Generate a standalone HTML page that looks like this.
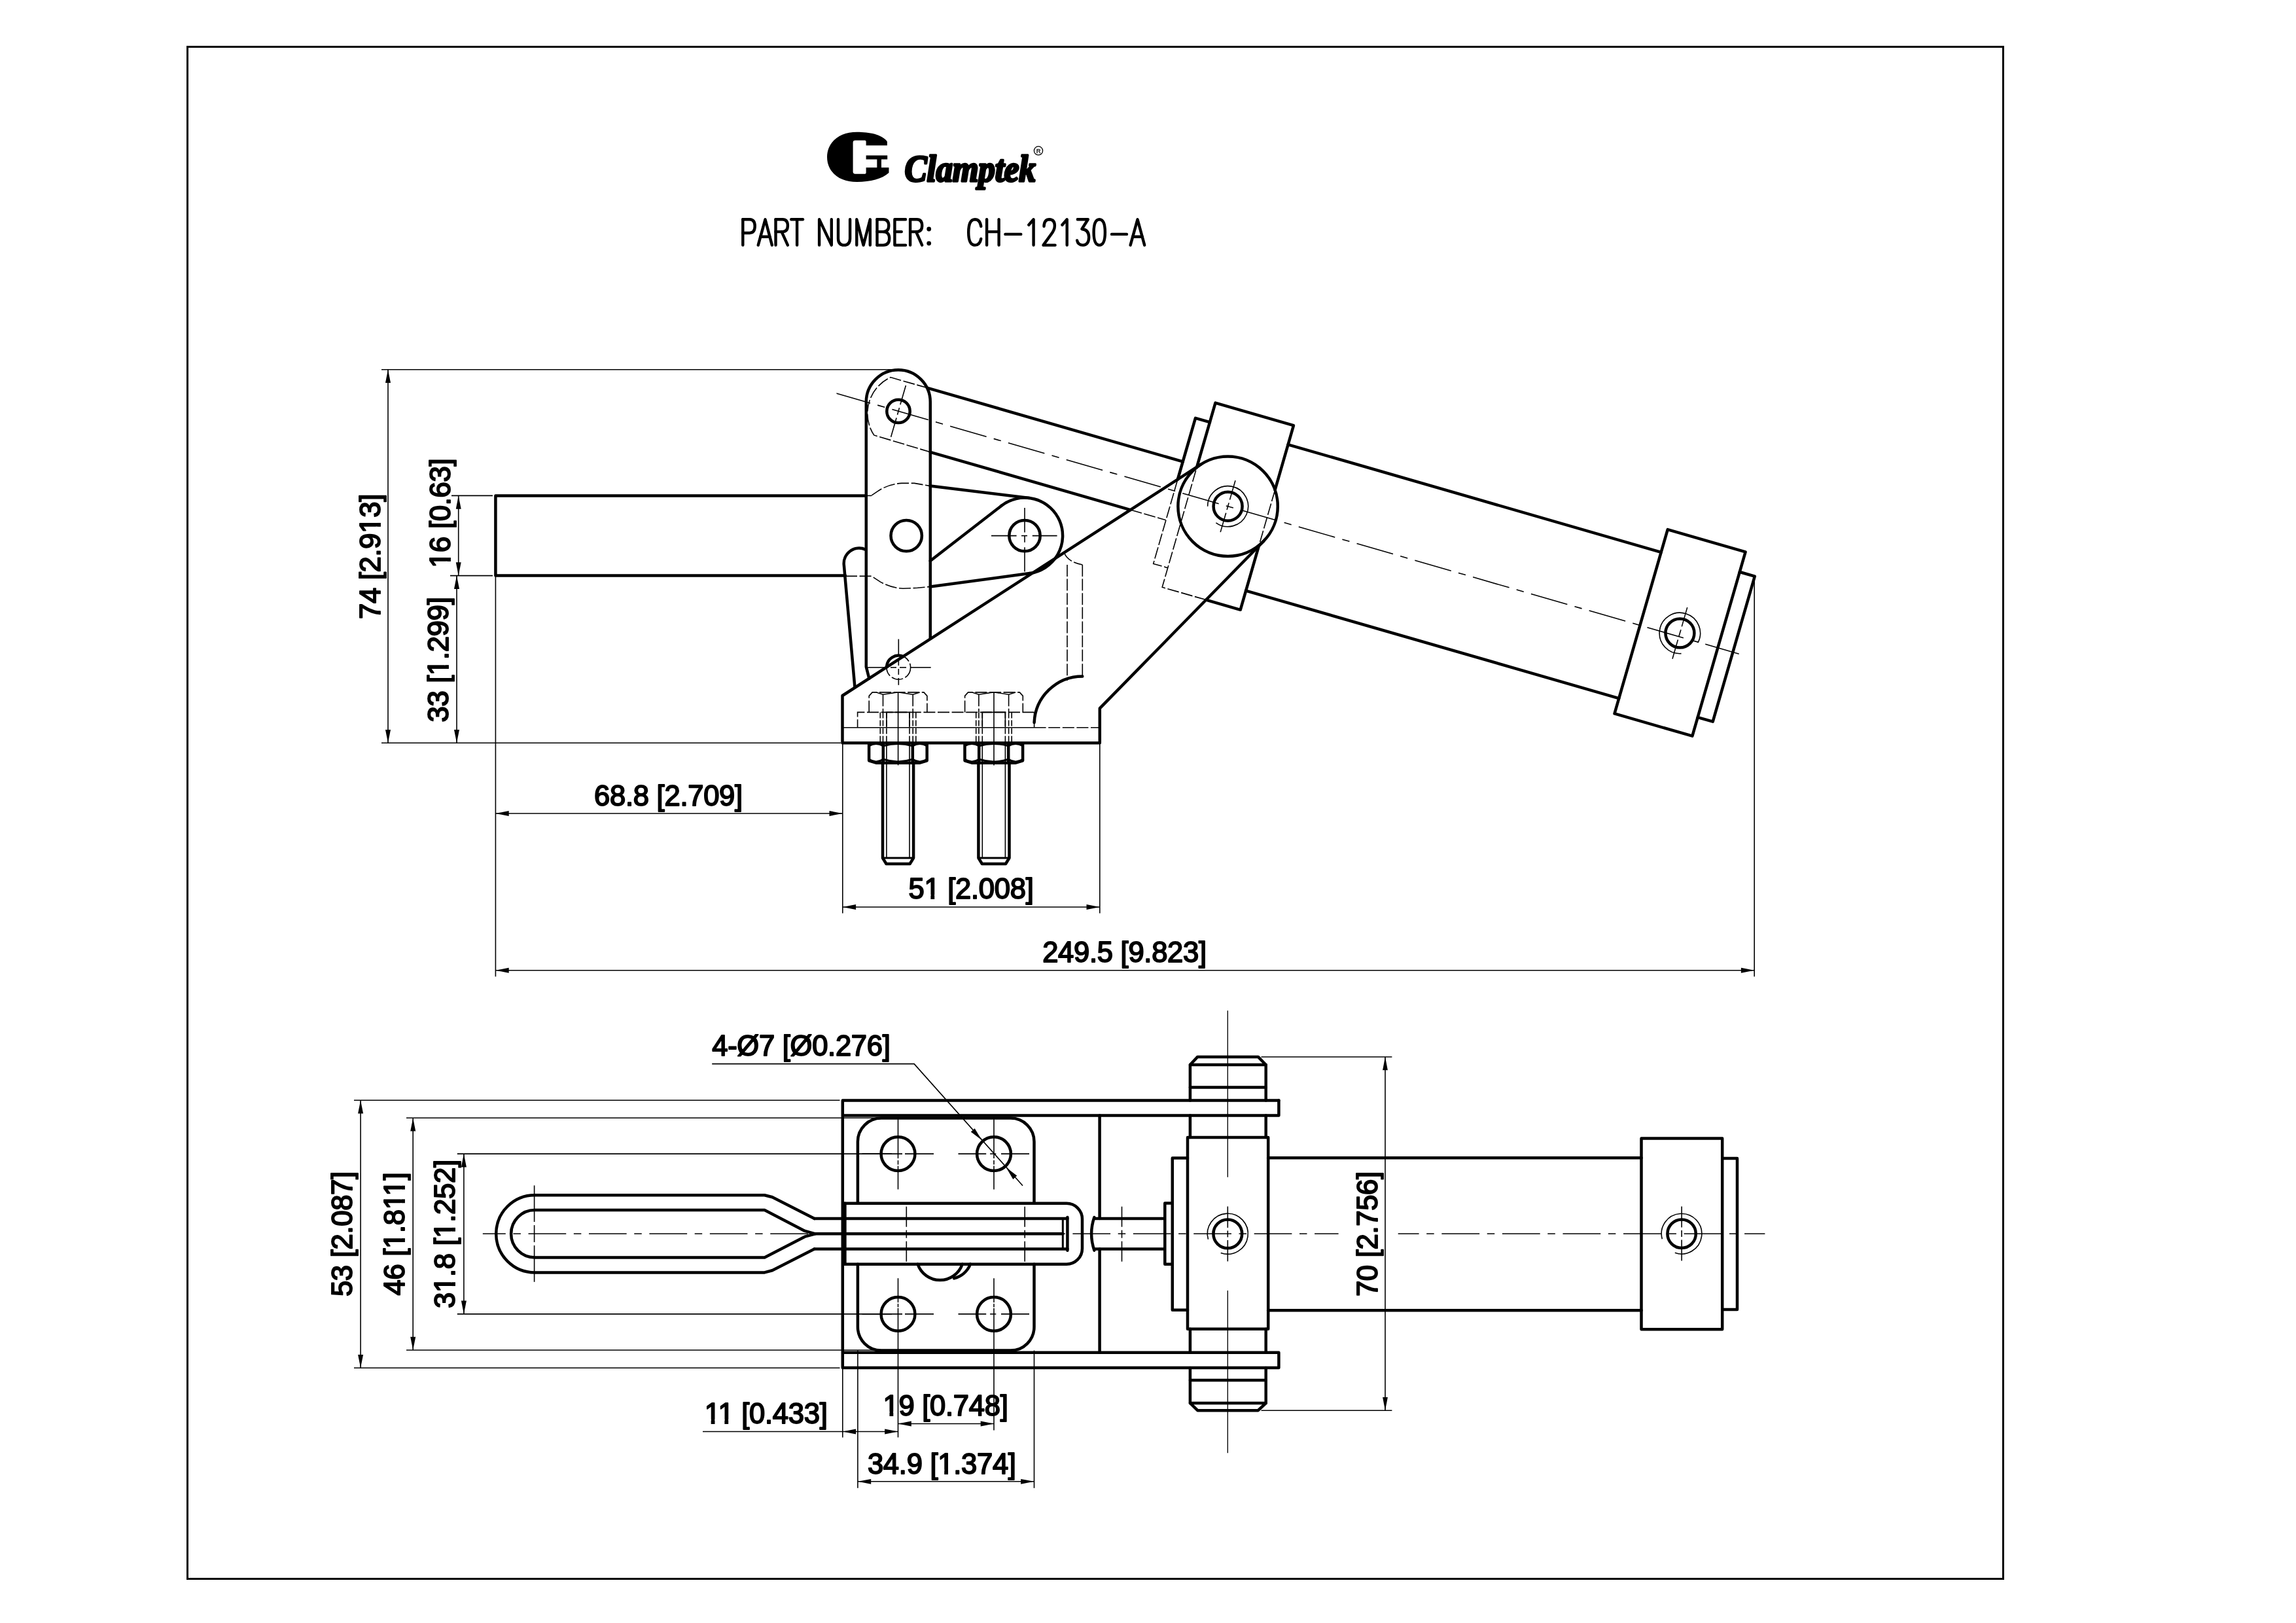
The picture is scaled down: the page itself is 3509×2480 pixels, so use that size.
<!DOCTYPE html>
<html><head><meta charset="utf-8"><title>CH-12130-A</title>
<style>
html,body{margin:0;padding:0;background:#fff}
body{width:3509px;height:2480px;overflow:hidden}
svg{display:block;will-change:transform}
.b{fill:none;stroke:#000;stroke-width:3}
.k{fill:none;stroke:#000;stroke-width:4.5;stroke-linejoin:round;stroke-linecap:round}
.kr{fill:none;stroke:#000;stroke-width:4.5;stroke-linejoin:round;stroke-linecap:round}
.t{fill:none;stroke:#000;stroke-width:1.6}
.h{fill:none;stroke:#000;stroke-width:1.6;stroke-dasharray:18 3.6}
.c{fill:none;stroke:#000;stroke-width:1.6;stroke-dasharray:57.5 11.5 11.5 11.5}
.cs{fill:none;stroke:#000;stroke-width:1.6;stroke-dasharray:30 5 5 5}
.kn{fill:none;stroke:#000;stroke-width:3}
.a{fill:#000;stroke:none}
.f{fill:#000;stroke:none}
.w{fill:#fff;stroke:none}
.s{fill:none;stroke:#000;stroke-width:4.4;stroke-linecap:round;stroke-linejoin:round}
text{font-family:"Liberation Sans",sans-serif;font-size:43.5px;letter-spacing:-0.25px;fill:#000;stroke:#000;stroke-width:1.9px;stroke-linejoin:round}
</style></head>
<body>
<svg width="3509" height="2480" viewBox="0 0 3509 2480">
<text class="d" x="580" y="850.5" dy="0.7" text-anchor="middle" transform="rotate(-90 580 850.5)">74 [2.913]</text>
<text class="d" x="686.8" y="784.3" dy="0.7" text-anchor="middle" transform="rotate(-90 686.8 784.3)">16 [0.63]</text>
<text class="d" x="684.5" y="1008" dy="0.7" text-anchor="middle" transform="rotate(-90 684.5 1008)">33 [1.299]</text>
<text class="d" x="1021.5" y="1230.5" dy="0.7" text-anchor="middle">68.8 [2.709]</text>
<text class="d" x="1484" y="1372.4" dy="0.7" text-anchor="middle">51 [2.008]</text>
<text class="d" x="1718.5" y="1469.6" dy="0.7" text-anchor="middle">249.5 [9.823]</text>
<text class="d" x="537.8" y="1885.6" dy="0.7" text-anchor="middle" transform="rotate(-90 537.8 1885.6)">53 [2.087]</text>
<text class="d" x="617.8" y="1885.6" dy="0.7" text-anchor="middle" transform="rotate(-90 617.8 1885.6)">46 [1.811]</text>
<text class="d" x="694.5" y="1885.6" dy="0.7" text-anchor="middle" transform="rotate(-90 694.5 1885.6)">31.8 [1.252]</text>
<text class="d" x="2104.3" y="1885.6" dy="0.7" text-anchor="middle" transform="rotate(-90 2104.3 1885.6)">70 [2.756]</text>
<text class="d" x="1088.2" y="1612.3" dy="0.7" text-anchor="start">4-&#216;7 [&#216;0.276]</text>
<text class="d" x="1170.6" y="2174.2" dy="0.7" text-anchor="middle">11 [0.433]</text>
<text class="d" x="1445" y="2162.4" dy="0.7" text-anchor="middle">19 [0.748]</text>
<text class="d" x="1439.3" y="2250.8" dy="0.7" text-anchor="middle">34.9 [1.374]</text>
<rect class="w" x="617.37" y="845.00" width="8.35" height="7.80" transform="rotate(-90 580 850.5)"/>
<rect class="w" x="631.55" y="845.00" width="8.02" height="7.80" transform="rotate(-90 580 850.5)"/>
<rect class="w" x="604.87" y="778.80" width="8.35" height="7.80" transform="rotate(-90 686.8 784.3)"/>
<rect class="w" x="619.05" y="778.80" width="8.02" height="7.80" transform="rotate(-90 686.8 784.3)"/>
<rect class="w" x="662.15" y="1002.50" width="8.35" height="7.80" transform="rotate(-90 684.5 1008)"/>
<rect class="w" x="676.33" y="1002.50" width="8.02" height="7.80" transform="rotate(-90 684.5 1008)"/>
<rect class="w" x="1414.04" y="1366.90" width="8.35" height="7.80"/>
<rect class="w" x="1428.22" y="1366.90" width="8.02" height="7.80"/>
<rect class="w" x="597.06" y="1880.10" width="8.35" height="7.80" transform="rotate(-90 617.8 1885.6)"/>
<rect class="w" x="611.24" y="1880.10" width="8.02" height="7.80" transform="rotate(-90 617.8 1885.6)"/>
<rect class="w" x="656.77" y="1880.10" width="8.35" height="7.80" transform="rotate(-90 617.8 1885.6)"/>
<rect class="w" x="670.95" y="1880.10" width="8.02" height="7.80" transform="rotate(-90 617.8 1885.6)"/>
<rect class="w" x="677.49" y="1880.10" width="8.35" height="7.80" transform="rotate(-90 617.8 1885.6)"/>
<rect class="w" x="691.67" y="1880.10" width="8.02" height="7.80" transform="rotate(-90 617.8 1885.6)"/>
<rect class="w" x="606.65" y="1880.10" width="8.35" height="7.80" transform="rotate(-90 694.5 1885.6)"/>
<rect class="w" x="620.83" y="1880.10" width="8.02" height="7.80" transform="rotate(-90 694.5 1885.6)"/>
<rect class="w" x="690.04" y="1880.10" width="8.35" height="7.80" transform="rotate(-90 694.5 1885.6)"/>
<rect class="w" x="704.22" y="1880.10" width="8.02" height="7.80" transform="rotate(-90 694.5 1885.6)"/>
<rect class="w" x="1078.31" y="2168.70" width="8.35" height="7.80"/>
<rect class="w" x="1092.49" y="2168.70" width="8.02" height="7.80"/>
<rect class="w" x="1099.01" y="2168.70" width="8.35" height="7.80"/>
<rect class="w" x="1113.19" y="2168.70" width="8.02" height="7.80"/>
<rect class="w" x="1351.10" y="2156.90" width="8.35" height="7.80"/>
<rect class="w" x="1365.28" y="2156.90" width="8.02" height="7.80"/>
<rect class="w" x="1434.84" y="2245.30" width="8.35" height="7.80"/>
<rect class="w" x="1449.02" y="2245.30" width="8.02" height="7.80"/>
<rect class="b" x="286.5" y="71.5" width="2775" height="2341"/>
<!-- side view -->
<path class="t" d="M583 564.7L1368 564.7"/>
<path class="t" d="M583 1135.2L1285 1135.2"/>
<path class="t" d="M593 564.7L593 1135.2"/>
<path class="a" d="M593 564.7L597 585L589 585Z"/>
<path class="a" d="M593 1135.2L589 1114.9L597 1114.9Z"/>
<path class="t" d="M690 757.4L753 757.4"/>
<path class="t" d="M688 879.6L753 879.6"/>
<path class="t" d="M700.7 757.4L700.7 879.6"/>
<path class="a" d="M700.7 757.4L704.7 777.7L696.8 777.7Z"/>
<path class="a" d="M700.7 879.6L696.8 859.3L704.7 859.3Z"/>
<path class="t" d="M698 879.6L698 1135.2"/>
<path class="a" d="M698 879.6L702 899.9L694 899.9Z"/>
<path class="a" d="M698 1135.2L694 1114.9L702 1114.9Z"/>
<path class="t" d="M757.4 879.6L757.4 1492.3"/>
<path class="t" d="M1287.8 1135.2L1287.8 1395.6"/>
<path class="t" d="M1680.8 1135.2L1680.8 1395.6"/>
<path class="t" d="M2681.2 882L2681.2 1492.3"/>
<path class="t" d="M757.4 1243L1287.8 1243"/>
<path class="a" d="M757.4 1243L777.7 1239L777.7 1247Z"/>
<path class="a" d="M1287.8 1243L1267.5 1247L1267.5 1239Z"/>
<path class="t" d="M1287.8 1386L1680.8 1386"/>
<path class="a" d="M1287.8 1386L1308.1 1382L1308.1 1390Z"/>
<path class="a" d="M1680.8 1386L1660.5 1390L1660.5 1382Z"/>
<path class="t" d="M757.4 1482.7L2681.2 1482.7"/>
<path class="a" d="M757.4 1482.7L777.7 1478.8L777.7 1486.7Z"/>
<path class="a" d="M2681.2 1482.7L2660.9 1486.7L2660.9 1478.8Z"/>
<path class="k" d="M1323.8 757.4L757.4 757.4L757.4 879.6L1291.9 879.6"/>
<path class="t" d="M1323.8 757.4L1332.2 757.4"/>
<path class="k" d="M1328.3 1036.8L1323.8 1018.9L1323.8 614.3A49 49 0 0 1 1421.8 614.3L1421.8 975.8"/>
<circle class="k" cx="1373" cy="628.4" r="17.7"/>
<circle class="k" cx="1385.2" cy="818.6" r="23.7"/>
<path class="k" d="M1835.3 709.7L1287.5 1063L1287.5 1135.2L1680.8 1135.2L1680.8 1082.4L1931 827"/>
<circle class="k" cx="1876.6" cy="773.7" r="76.2"/>
<circle class="k" cx="1876.6" cy="773.7" r="22"/>
<path class="t" d="M1845.6 773.7A31 31 0 1 1 1858.4 798.8"/>
<path class="k" d="M1829 714.2L1857.5 615.6L1977 650.1L1948.6 748.7"/>
<path class="h" d="M1948.6 748.7L1924.2 833.2"/>
<path class="k" d="M1924.2 833.2L1895.7 931.8L1843.2 916.6"/>
<path class="h" d="M1843.2 916.6L1776.2 897.3L1829 714.2"/>
<path class="k" d="M1849 645.2L1827 638.8L1799.9 732.5"/>
<path class="h" d="M1799.9 732.5L1762.7 861.4L1784.7 867.7"/>
<path class="k" d="M1418.6 593.1L1807.7 705.4"/>
<path class="k" d="M1421.8 690.8L1727.6 779.1"/>
<path class="h" d="M1727.6 779.1L1781.9 794.8"/>
<path class="h" d="M1418.6 593.1L1361.1 576.6A60.5 60.5 0 0 0 1335.7 664.9L1421.8 690.8"/>
<path class="k" d="M1968.6 679.3L2538.6 843.8"/>
<path class="k" d="M1904.1 902.6L2474.2 1067.1"/>
<path class="k" d="M2548.7 809.1L2667.6 843.4L2586.4 1124.7L2467.5 1090.4Z"/>
<path class="k" d="M2658.8 874L2681.8 880.7L2617.7 1102.7L2594.7 1096.1"/>
<circle class="k" cx="2567.4" cy="967.5" r="22"/>
<path class="t" d="M2569.5 998.6A31.2 31.2 0 1 1 2594.9 982.1"/>
<path class="t" style="stroke-dasharray:57.7 11.6 11.5 11.6" d="M1274.6 599.9L2657.7 999.2"/>
<rect class="w" x="1260" y="585" width="18.5" height="30"/>
<path class="t" d="M1384.4 589L1375.9 618.3"/>
<path class="t" d="M1374.5 623.1L1371.5 633.7"/>
<path class="t" d="M1370.1 638.5L1361.6 667.8"/>
<path class="t" d="M1888 734.3L1879.5 763.6"/>
<path class="t" d="M1878.1 768.4L1875.1 779"/>
<path class="t" d="M1873.7 783.8L1865.2 813.1"/>
<path class="t" d="M2578.7 928.1L2570.3 957.4"/>
<path class="t" d="M2568.9 962.2L2565.8 972.7"/>
<path class="t" d="M2564.4 977.5L2556 1006.8"/>
<circle class="k" cx="1566" cy="818.6" r="23.7"/>
<path class="k" d="M1421.8 742.6L1573 761"/>
<path class="k" d="M1421.8 857L1530.5 772.8"/>
<path class="k" d="M1421.8 896.4L1573.7 876.1"/>
<path class="k" d="M1530.5 772.8A58 58 0 1 1 1573.7 876.1"/>
<path class="t" d="M1515 818.6L1553.6 818.6"/>
<path class="t" d="M1561 818.6L1570 818.6"/>
<path class="t" d="M1577.8 818.6L1615.6 818.6"/>
<path class="t" d="M1566 776L1566 813.5"/>
<path class="t" d="M1566 817.9L1566 828.8"/>
<path class="t" d="M1566 836.2L1566 873.6"/>
<path class="h" d="M1332.2 756.8L1340.7 751.2Q1357 739.6 1378 738.4L1397.4 738.4L1421.8 742.6"/>
<path class="h" d="M1292 880.4L1332.2 880.4L1345.4 889.1Q1361 898.3 1380 899.3L1402.4 898.3L1421.8 896.4"/>
<path class="k" d="M1306.4 1049.5L1289.9 864A23.4 23.4 0 0 1 1322.6 839.6"/>
<path class="t" d="M1287.5 1111.8L1580.6 1111.8"/>
<path class="h" d="M1580.6 1111.8L1680.8 1111.8"/>
<path class="k" d="M1654.3 1033.4A73.8 73.8 0 0 0 1580.6 1104.1"/>
<path class="t" d="M1580.6 1088.6L1580.6 1112"/>
<path class="h" d="M1631 863L1631 1040"/>
<path class="h" d="M1654.3 863L1654.3 1033"/>
<path class="h" d="M1626.3 844.2Q1632 859 1654.3 863"/>
<circle class="h" cx="1373.3" cy="1019.9" r="18.3"/>
<path class="k" d="M1355 1019.5A18.3 18.3 0 0 1 1380.5 1003.1"/>
<path class="t" d="M1326.1 1019.9L1356 1019.9"/>
<path class="t" d="M1361 1019.9L1370 1019.9"/>
<path class="t" d="M1375 1019.9L1385 1019.9"/>
<path class="t" d="M1391 1019.9L1422.7 1019.9"/>
<path class="t" d="M1373.3 976.6L1373.3 1003"/>
<path class="t" d="M1373.3 1008L1373.3 1017"/>
<path class="t" d="M1373.3 1022L1373.3 1031"/>
<path class="t" d="M1373.3 1036L1373.3 1046.8"/>
<path class="h" d="M1328.2 1088.4L1328.2 1063.4L1333.2 1057.9L1411.9 1057.9L1416.9 1063.4L1416.9 1088.4"/>
<path class="h" d="M1349.5 1061.2L1349.5 1088.4"/>
<path class="h" d="M1395.2 1061.2L1395.2 1088.4"/>
<path class="t" d="M1339.6 1057.9L1349.5 1061.2L1371.1 1057.9"/>
<path class="t" d="M1374.1 1057.9L1395.2 1061.2L1405.6 1057.9"/>
<path class="t" d="M1372.6 1057.9L1372.6 1169.4"/>
<path class="t" style="stroke-dasharray:9 3" d="M1345.3 1088.4L1345.3 1135.2"/>
<path class="t" style="stroke-dasharray:9 3" d="M1349.5 1088.4L1349.5 1135.2"/>
<path class="t" style="stroke-dasharray:9 3" d="M1354.9 1088.4L1354.9 1135.2"/>
<path class="t" style="stroke-dasharray:9 3" d="M1390 1088.4L1390 1135.2"/>
<path class="t" style="stroke-dasharray:9 3" d="M1395.2 1088.4L1395.2 1135.2"/>
<path class="t" style="stroke-dasharray:9 3" d="M1399.8 1088.4L1399.8 1135.2"/>
<path class="t" d="M1354.9 1111.8L1354.9 1088.4L1390 1088.4L1390 1111.8"/>
<path class="k" d="M1328.1 1135.2L1328.1 1162.3L1339.6 1165.8L1405.2 1165.8L1416.7 1162.3L1416.7 1135.2"/>
<path class="k" d="M1349.8 1135.2L1349.8 1165.8"/>
<path class="k" d="M1394.8 1135.2L1394.8 1165.8"/>
<path class="t" d="M1354.9 1135.2L1354.9 1165.8"/>
<path class="t" d="M1390 1135.2L1390 1165.8"/>
<path class="kn" d="M1328.1 1139.7Q1338.9 1133.2 1349.8 1139.7"/>
<path class="kn" d="M1328.1 1160.3Q1338.9 1167.5 1349.8 1160.3"/>
<path class="kn" d="M1349.8 1139.7Q1372.3 1133.2 1394.8 1139.7"/>
<path class="kn" d="M1349.8 1160.3Q1372.3 1167.5 1394.8 1160.3"/>
<path class="kn" d="M1394.8 1139.7Q1405.8 1133.2 1416.7 1139.7"/>
<path class="kn" d="M1394.8 1160.3Q1405.8 1167.5 1416.7 1160.3"/>
<path class="k" d="M1349 1165.8L1349 1311L1354.5 1320L1390.6 1320L1396.1 1311L1396.1 1165.8"/>
<path class="kn" d="M1349 1311L1396.1 1311"/>
<path class="t" d="M1354.9 1165.8L1354.9 1311"/>
<path class="t" d="M1390 1165.8L1390 1311"/>
<path class="h" d="M1474.6 1088.4L1474.6 1063.4L1479.6 1057.9L1558.3 1057.9L1563.3 1063.4L1563.3 1088.4"/>
<path class="h" d="M1495.9 1061.2L1495.9 1088.4"/>
<path class="h" d="M1541.6 1061.2L1541.6 1088.4"/>
<path class="t" d="M1486 1057.9L1495.9 1061.2L1517.5 1057.9"/>
<path class="t" d="M1520.5 1057.9L1541.6 1061.2L1552 1057.9"/>
<path class="t" d="M1519 1057.9L1519 1169.4"/>
<path class="t" style="stroke-dasharray:9 3" d="M1491.7 1088.4L1491.7 1135.2"/>
<path class="t" style="stroke-dasharray:9 3" d="M1495.9 1088.4L1495.9 1135.2"/>
<path class="t" style="stroke-dasharray:9 3" d="M1501.3 1088.4L1501.3 1135.2"/>
<path class="t" style="stroke-dasharray:9 3" d="M1536.4 1088.4L1536.4 1135.2"/>
<path class="t" style="stroke-dasharray:9 3" d="M1541.6 1088.4L1541.6 1135.2"/>
<path class="t" style="stroke-dasharray:9 3" d="M1546.2 1088.4L1546.2 1135.2"/>
<path class="t" d="M1501.3 1111.8L1501.3 1088.4L1536.4 1088.4L1536.4 1111.8"/>
<path class="k" d="M1474.5 1135.2L1474.5 1162.3L1486 1165.8L1551.6 1165.8L1563.1 1162.3L1563.1 1135.2"/>
<path class="k" d="M1496.2 1135.2L1496.2 1165.8"/>
<path class="k" d="M1541.2 1135.2L1541.2 1165.8"/>
<path class="t" d="M1501.3 1135.2L1501.3 1165.8"/>
<path class="t" d="M1536.4 1135.2L1536.4 1165.8"/>
<path class="kn" d="M1474.5 1139.7Q1485.3 1133.2 1496.2 1139.7"/>
<path class="kn" d="M1474.5 1160.3Q1485.3 1167.5 1496.2 1160.3"/>
<path class="kn" d="M1496.2 1139.7Q1518.7 1133.2 1541.2 1139.7"/>
<path class="kn" d="M1496.2 1160.3Q1518.7 1167.5 1541.2 1160.3"/>
<path class="kn" d="M1541.2 1139.7Q1552.2 1133.2 1563.1 1139.7"/>
<path class="kn" d="M1541.2 1160.3Q1552.2 1167.5 1563.1 1160.3"/>
<path class="k" d="M1495.4 1165.8L1495.4 1311L1500.9 1320L1537 1320L1542.5 1311L1542.5 1165.8"/>
<path class="kn" d="M1495.4 1311L1542.5 1311"/>
<path class="t" d="M1501.3 1165.8L1501.3 1311"/>
<path class="t" d="M1536.4 1165.8L1536.4 1311"/>
<path class="h" d="M1580.6 1088.4L1310.6 1088.4L1310.6 1111.8"/>
<!-- plan view -->
<path class="t" d="M541 1681.2L1283.5 1681.2"/>
<path class="t" d="M541 2090.2L1283.5 2090.2"/>
<path class="t" d="M551.1 1681.2L551.1 2090.2"/>
<path class="a" d="M551.1 1681.2L555.1 1701.5L547.1 1701.5Z"/>
<path class="a" d="M551.1 2090.2L547.1 2069.9L555.1 2069.9Z"/>
<path class="t" d="M621 1708.3L1345 1708.3"/>
<path class="t" d="M621 2063L1345 2063"/>
<path class="t" d="M631.2 1708.3L631.2 2063"/>
<path class="a" d="M631.2 1708.3L635.2 1728.6L627.2 1728.6Z"/>
<path class="a" d="M631.2 2063L627.2 2042.7L635.2 2042.7Z"/>
<path class="t" d="M698.8 1763.1L1363 1763.1"/>
<path class="t" d="M698.8 2007.9L1363 2007.9"/>
<path class="t" d="M708.9 1763.1L708.9 2007.9"/>
<path class="a" d="M708.9 1763.1L712.9 1783.4L704.9 1783.4Z"/>
<path class="a" d="M708.9 2007.9L704.9 1987.6L712.9 1987.6Z"/>
<path class="k" d="M1244.6 1862.1L1180.3 1829.3L1168.5 1826.2L817.3 1826.2A59.1 59.1 0 0 0 817.3 1944.4L1168.5 1944.4L1180.3 1941.3L1244.6 1908.5"/>
<path class="k" d="M1246 1885.3L1230 1880.9L1168.5 1849.1L817.3 1849.1A36.2 36.2 0 0 0 817.3 1921.5L1168.5 1921.5L1230 1889.7Z"/>
<path class="k" d="M1244.6 1862.1L1631.4 1862.1"/>
<path class="k" d="M1244.6 1908.6L1631.4 1908.6"/>
<path class="k" d="M1244 1885.3L1624.3 1885.3"/>
<path class="kn" d="M1624.3 1862.1L1624.3 1908.6"/>
<path class="k" d="M1631.4 1859.9L1631.4 1910.8"/>
<path class="t" d="M816.6 1811.4L816.6 1867.1"/>
<path class="t" d="M816.6 1872.1L816.6 1898.1"/>
<path class="t" d="M816.6 1903.1L816.6 1958.8"/>
<path class="k" d="M1954.4 1681.5L1287.8 1681.5L1287.8 2090L1954.4 2090L1954.4 2066.8L1289.8 2066.8"/>
<path class="k" d="M1289.8 1704.6L1954.4 1704.6L1954.4 1681.5"/>
<path class="k" d="M1291.4 1838.8L1291.4 1931.7"/>
<path class="k" d="M1680.6 1704.6L1680.6 1862.1"/>
<path class="k" d="M1680.6 1908.6L1680.6 2066.8"/>
<path class="k" d="M1310.9 1838.8L1310.9 1744.6A36 36 0 0 1 1346.9 1708.6L1544.5 1708.6A36 36 0 0 1 1580.5 1744.6L1580.5 1838.8"/>
<path class="k" d="M1310.9 1931.7L1310.9 2027.6A36 36 0 0 0 1346.9 2063.6L1544.5 2063.6A36 36 0 0 0 1580.5 2027.6L1580.5 1931.7"/>
<circle class="k" cx="1372.5" cy="1763.1" r="25.9"/>
<circle class="k" cx="1372.5" cy="2007.9" r="25.9"/>
<circle class="k" cx="1519" cy="1763.1" r="25.9"/>
<circle class="k" cx="1519" cy="2007.9" r="25.9"/>
<path class="t" d="M1317.5 1763.1L1379 1763.1"/>
<path class="t" d="M1383 1763.1L1427 1763.1"/>
<path class="t" d="M1464.5 1763.1L1507.2 1763.1"/>
<path class="t" d="M1513.1 1763.1L1522.3 1763.1"/>
<path class="t" d="M1530 1763.1L1573 1763.1"/>
<path class="t" d="M1317.5 2007.9L1379 2007.9"/>
<path class="t" d="M1383 2007.9L1427 2007.9"/>
<path class="t" d="M1464.5 2007.9L1507.2 2007.9"/>
<path class="t" d="M1513.1 2007.9L1522.3 2007.9"/>
<path class="t" d="M1530 2007.9L1573 2007.9"/>
<path class="t" d="M1372.5 1710.3L1372.5 1770.1"/>
<path class="t" d="M1372.5 1773.1L1372.5 1779.6"/>
<path class="t" d="M1372.5 1781.6L1372.5 1817.4"/>
<path class="t" d="M1372.5 1953.2L1372.5 1990.3"/>
<path class="t" d="M1372.5 1992.2L1372.5 1997.4"/>
<path class="t" d="M1372.5 1998.9L1372.5 2062.8"/>
<path class="t" d="M1519 1710.3L1519 1770.1"/>
<path class="t" d="M1519 1773.1L1519 1779.6"/>
<path class="t" d="M1519 1781.6L1519 1817.4"/>
<path class="t" d="M1519 1953.2L1519 1990.3"/>
<path class="t" d="M1519 1992.2L1519 1997.4"/>
<path class="t" d="M1519 1998.9L1519 2062.8"/>
<path class="k" d="M1289.8 1838.8L1630 1838.8A24 24 0 0 1 1654 1862.8L1654 1907.7A24 24 0 0 1 1630 1931.7L1289.8 1931.7"/>
<path class="t" d="M1385.3 1843.7L1385.3 1874.7"/>
<path class="t" d="M1385.3 1879.7L1385.3 1891.7"/>
<path class="t" d="M1385.3 1896.7L1385.3 1927.7"/>
<path class="t" d="M1566.2 1843.7L1566.2 1874.7"/>
<path class="t" d="M1566.2 1879.7L1566.2 1891.7"/>
<path class="t" d="M1566.2 1896.7L1566.2 1927.7"/>
<path class="t" d="M1714.5 1843.7L1714.5 1874.7"/>
<path class="t" d="M1714.5 1879.7L1714.5 1891.7"/>
<path class="t" d="M1714.5 1896.7L1714.5 1927.7"/>
<path class="k" d="M1402.6 1931.7A36 36 0 0 0 1470.7 1931.7"/>
<path class="k" d="M1458.2 1953.4A36 36 0 0 0 1483 1931.7"/>
<path class="k" d="M1672.1 1862.1L1779 1862.1"/>
<path class="k" d="M1672.1 1908.6L1779 1908.6"/>
<path class="k" d="M1672.4 1860.1A78 78 0 0 0 1672.4 1910.6"/>
<path class="k" d="M1791.8 1838.6L1780.3 1838.6L1780.3 1931.8L1791.8 1931.8"/>
<path class="k" d="M1815 1769.4L1791.8 1769.4L1791.8 2001.8L1815 2001.8"/>
<path class="k" d="M1815 1737.9L1938.2 1737.9L1938.2 2030.8L1815 2030.8Z"/>
<path class="k" d="M1818.9 1681.5L1818.9 1627L1830.3 1614.9L1922.8 1614.9L1934.7 1627L1934.7 1681.5"/>
<path class="k" d="M1818.9 1627L1934.7 1627"/>
<path class="k" d="M1818.9 1661.5L1934.7 1661.5"/>
<path class="k" d="M1818.9 1704.6L1818.9 1737.9"/>
<path class="k" d="M1934.7 1704.6L1934.7 1737.9"/>
<path class="k" d="M1818.9 2090L1818.9 2144L1830.3 2155.2L1922.8 2155.2L1934.7 2144L1934.7 2090"/>
<path class="k" d="M1818.9 2144L1934.7 2144"/>
<path class="k" d="M1818.9 2108.9L1934.7 2108.9"/>
<path class="k" d="M1818.9 2030.8L1818.9 2066.8"/>
<path class="k" d="M1934.7 2030.8L1934.7 2066.8"/>
<circle class="k" cx="1876.3" cy="1885.3" r="21.9"/>
<path class="t" d="M1846.5 1893.8A31 31 0 1 1 1865.7 1914.4"/>
<path class="t" d="M1876.3 1843.5L1876.3 1876"/>
<path class="t" d="M1876.3 1880.5L1876.3 1890.5"/>
<path class="t" d="M1876.3 1895L1876.3 1927.4"/>
<path class="t" style="stroke-width:1.35" d="M1876.3 1798.8L1876.3 1544.3"/>
<path class="t" style="stroke-width:1.35" d="M1876.3 1972.1L1876.3 2220.3"/>
<path class="k" d="M1938.2 1769.2L2508.5 1769.2"/>
<path class="k" d="M1938.2 2002.2L2508.5 2002.2"/>
<path class="k" d="M2508.5 1739.5L2632.2 1739.5L2632.2 2031.2L2508.5 2031.2Z"/>
<path class="k" d="M2632.2 1770L2655 1770L2655 2001L2632.2 2001"/>
<circle class="k" cx="2570.1" cy="1885.3" r="21.7"/>
<path class="t" d="M2540.3 1893.3A30.8 30.8 0 1 1 2559.8 1914.3"/>
<path class="t" d="M2570.1 1843.6L2570.1 1875.6"/>
<path class="t" d="M2570.1 1880.1L2570.1 1890.1"/>
<path class="t" d="M2570.1 1894.6L2570.1 1926.6"/>
<path class="t" style="stroke-dasharray:57.7 11.6 11.5 11.63;stroke-dashoffset:22.7" d="M737.8 1885.3L2045.6 1885.3"/>
<path class="t" style="stroke-dasharray:57.8 11.6 11.5 11.65;stroke-dashoffset:25.9" d="M2136.7 1885.3L2697.4 1885.3"/>
<path class="t" d="M1927.5 1615L2127.4 1615"/>
<path class="t" d="M1927.5 2155.2L2127.4 2155.2"/>
<path class="t" d="M2117 1615L2117 2155.2"/>
<path class="a" d="M2117 1615L2120.9 1635.3L2113.1 1635.3Z"/>
<path class="a" d="M2117 2155.2L2113.1 2134.9L2120.9 2134.9Z"/>
<path class="t" d="M1088.2 1625.6L1397.1 1625.6L1563 1811.7"/>
<path class="a" d="M1500.3 1742.1L1483.8 1729.6L1489.7 1724.3Z"/>
<path class="a" d="M1537.7 1784.1L1554.2 1796.6L1548.3 1801.9Z"/>
<path class="t" d="M1287.8 2090L1287.8 2196.4"/>
<path class="t" d="M1310.9 2063.6L1310.9 2273.8"/>
<path class="t" d="M1372.5 2062.8L1372.5 2196.4"/>
<path class="t" d="M1519 2062.8L1519 2185.4"/>
<path class="t" d="M1580.5 2063.6L1580.5 2273.8"/>
<path class="t" d="M1074 2187.5L1372.5 2187.5"/>
<path class="a" d="M1287.8 2187.5L1308.1 2183.6L1308.1 2191.4Z"/>
<path class="a" d="M1372.5 2187.5L1352.2 2191.4L1352.2 2183.6Z"/>
<path class="t" d="M1372.5 2175.5L1519 2175.5"/>
<path class="a" d="M1372.5 2175.5L1392.8 2171.6L1392.8 2179.4Z"/>
<path class="a" d="M1519 2175.5L1498.7 2179.4L1498.7 2171.6Z"/>
<path class="t" d="M1310.9 2263.8L1580.5 2263.8"/>
<path class="a" d="M1310.9 2263.8L1331.2 2259.9L1331.2 2267.8Z"/>
<path class="a" d="M1580.5 2263.8L1560.2 2267.8L1560.2 2259.9Z"/>
<!-- header -->
<g transform="translate(1240 190) scale(0.17422)"><path class="f" d="M665 185L480 185L480 150Q480 140 470 140L385 140Q365 140 365 160L365 415Q365 435 385 435L470 435Q480 435 480 425L480 379L576 379L576 307L480 307L480 272L667 272L667 307L614 307L614 379L680 379L680 425C620 480 520 505 400 505C240 505 138 415 138 287C138 160 240 68 400 68C510 68 615 88 665 150Z"/></g>
<text x="1382.5" y="276.5" textLength="200" lengthAdjust="spacingAndGlyphs" style="font-family:'Liberation Serif',serif;font-weight:bold;font-style:italic;font-size:57px;stroke-width:3.4px;stroke-linejoin:round">Clamptek</text>
<circle class="t" style="stroke-width:1.3" cx="1587" cy="230.3" r="6.6"/>
<text x="1587" y="233.8" text-anchor="middle" style="font-size:9.5px;stroke-width:0.3px">R</text>
<path class="s" d="M1135.3 335.3 L1135.3 374.6"/>
<path class="s" d="M1135.3 335.3 L1145.8 335.3 Q1153.7 335.6 1153.7 345.6 Q1153.7 355.7 1145.8 356 L1135.3 356"/>
<path class="s" d="M1158.7 374.6 L1169.5 335.3 L1179.9 374.6"/>
<path class="s" d="M1162.2 361.8 L1176.4 361.8"/>
<path class="s" d="M1185.5 335.3 L1185.5 374.6"/>
<path class="s" d="M1185.5 335.3 L1196 335.3 Q1203.9 335.6 1203.9 344.8 Q1203.9 353.9 1196 354.1 L1185.5 354.1"/>
<path class="s" d="M1194.6 354.1 L1203.9 374.6"/>
<path class="s" d="M1209.2 335.3 L1227 335.3"/>
<path class="s" d="M1218.1 335.3 L1218.1 374.6"/>
<path class="s" d="M1252.1 374.6 L1252.1 335.3 L1270.8 374.6 L1270.8 335.3"/>
<path class="s" d="M1281 335.3 L1281 364.6 Q1281.3 374.6 1290 374.6 Q1298.8 374.6 1299.1 364.6 L1299.1 335.3"/>
<path class="s" d="M1309.3 374.6 L1309.3 335.3 L1319.6 374.6 L1329.8 335.3 L1329.8 374.6"/>
<path class="s" d="M1340.5 335.3 L1340.5 374.6"/>
<path class="s" d="M1340.5 335.3 L1350 335.3 Q1358.3 335.6 1358.3 344.8 Q1358.3 353.9 1350 354.1 L1340.5 354.1"/>
<path class="s" d="M1350 354.1 Q1359.2 354.4 1359.2 364.3 Q1359.2 374.4 1350 374.6 L1340.5 374.6"/>
<path class="s" d="M1384.1 335.3 L1367.4 335.3 L1367.4 374.6 L1384.1 374.6"/>
<path class="s" d="M1367.4 354.1 L1377.8 354.1"/>
<path class="s" d="M1391.1 335.3 L1391.1 374.6"/>
<path class="s" d="M1391.1 335.3 L1401.3 335.3 Q1409.2 335.6 1409.2 344.8 Q1409.2 353.9 1401.3 354.1 L1391.1 354.1"/>
<path class="s" d="M1400.1 354.1 L1409.2 374.6"/>
<circle class="f" cx="1419.7" cy="350" r="3.4"/>
<circle class="f" cx="1419.7" cy="371.8" r="3.4"/>
<path class="s" d="M1499.3 345.8 Q1497.6 335.3 1490 335.3 Q1480.2 335.6 1480.2 355 Q1480.2 374.4 1490 374.6 Q1497.6 374.6 1499.3 364.9"/>
<path class="s" d="M1508.1 335.3 L1508.1 374.6"/>
<path class="s" d="M1526.6 335.3 L1526.6 374.6"/>
<path class="s" d="M1508.1 354.1 L1526.6 354.1"/>
<path class="s" d="M1536.4 357.9 L1560.3 357.9"/>
<path class="s" d="M1572.2 343.7 L1579.6 335.3 L1579.6 374.6"/>
<path class="s" d="M1595.5 345.8 Q1595.9 335.3 1603.8 335.3 Q1611.9 335.6 1611.9 345.1 Q1611.9 351.4 1606.3 358.3 L1594.5 374.6 L1612.6 374.6"/>
<path class="s" d="M1623.3 343.7 L1630.7 335.3 L1630.7 374.6"/>
<path class="s" d="M1646.8 335.3 L1662.8 335.3 L1653.4 350 Q1664.2 350.9 1664.2 362.5 Q1663.9 374.4 1655.1 374.6 Q1647.5 374.6 1646.1 367.4"/>
<path class="s" d="M1680.2 335.3 Q1671.6 335.6 1671.6 355 Q1671.6 374.4 1680.2 374.6 Q1688.9 374.4 1688.9 355 Q1688.9 335.6 1680.2 335.3"/>
<path class="s" d="M1699 357.9 L1722 357.9"/>
<path class="s" d="M1727.6 374.6 L1738.5 335.3 L1749.2 374.6"/>
<path class="s" d="M1731.1 361.8 L1745.7 361.8"/>
</svg>
</body></html>
